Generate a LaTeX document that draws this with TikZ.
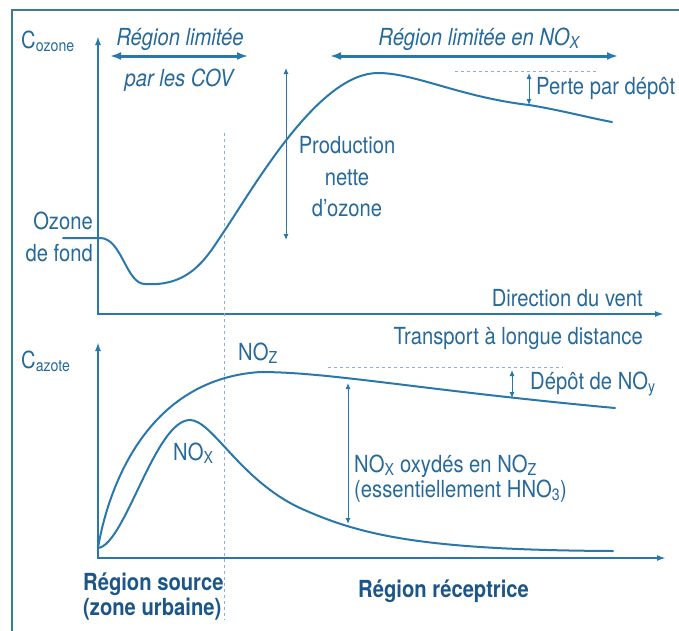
\documentclass[tikz,border=0pt]{standalone}
\usepackage{fontspec}
\setmainfont{TeX Gyre Heros}[FakeStretch=0.86]
\usetikzlibrary{arrows.meta}
\definecolor{lc}{HTML}{2A77AB}
\definecolor{tc}{HTML}{26699B}
\definecolor{bc}{HTML}{1C5688}
\definecolor{gl}{HTML}{8FB0C8}
\definecolor{fc}{HTML}{3E7D8F}
\newcommand\lbfont{\fontsize{23.5}{31.5}\selectfont}
\newcommand\sbs[1]{\textsubscript{#1}}
\tikzset{
  frameline/.style={draw=fc, line width=2pt},
  ax/.style={draw=lc, line width=2.2pt, line join=miter, {Latex[length=9pt,width=6pt]}-{Latex[length=9pt,width=6pt]}},
  crv/.style={draw=lc, line width=2pt, line cap=round},
  reg/.style={draw=lc, line width=3pt, {Latex[length=11pt,width=8pt]}-{Latex[length=11pt,width=8pt]}},
  dim/.style={draw=lc, line width=1pt, {Latex[length=6pt,width=5pt]}-{Latex[length=6pt,width=5pt]}},
  guide/.style={draw=gl, line width=0.9pt, dash pattern=on 3pt off 3pt},
  lbl/.style={text=tc, font=\lbfont, inner sep=0pt},
  blbl/.style={text=bc, font=\lbfont\bfseries, inner sep=0pt},
}
\begin{document}
\begin{tikzpicture}[x=1pt,y=-1pt]
\useasboundingbox (0,0) rectangle (679,630);
% frame
\draw[frameline] (12,632) -- (12,10) -- (681,10);

% ---------- upper plot ----------
\coordinate (uo) at (98,314);
\coordinate (uy) at (98,36);
\coordinate (ux) at (664,314);
\draw[ax] (uy) -- (uo) -- (ux);

% vertical guide
\coordinate (g1) at (224,133);
\coordinate (g2) at (224,620);
\draw[guide] (g1) -- (g2);

% ozone curve
\draw[crv] (63,238) -- (100,238)
  .. controls (122,238) and (126,284) .. (145,284)
  .. controls (192,287) and (208,255) .. (225,230)
  .. controls (258,180) and (320,73) .. (378,73)
  .. controls (415,73) and (460,97) .. (529,105)
  .. controls (560,110) and (590,118) .. (612,122);

% region arrows
\coordinate (ra1) at (110,56);
\coordinate (ra2) at (248,56);
\coordinate (rb1) at (330,56);
\coordinate (rb2) at (618,56);
\draw[reg] (ra1) -- (ra2);
\draw[reg] (rb1) -- (rb2);

% dashed level + loss arrow
\coordinate (d1) at (455,71);
\coordinate (d2) at (597,71);
\draw[guide] (d1) -- (d2);
\coordinate (pa) at (529,73);
\coordinate (pb) at (529,105);
\draw[dim] (pa) -- (pb);

% production arrow
\coordinate (pr1) at (286,68);
\coordinate (pr2) at (286,240);
\draw[dim] (pr1) -- (pr2);

% upper texts
\node[lbl, anchor=base west] (cozone) at (21,48) {C\sbs{ozone}};
\node[lbl, anchor=base, font=\lbfont\itshape] (rl1) at (180,45) {Région limitée};
\node[lbl, anchor=base, font=\lbfont\itshape] (rl2) at (179,86) {par les COV};
\node[lbl, anchor=base, font=\lbfont\itshape] (rl3) at (479,45) {Région limitée en NO\sbs{X}};
\node[lbl, anchor=base west] (perte) at (536,94) {Perte par dépôt};
\node[lbl, align=center] (prod) at (347,177) {Production\\nette\\d’ozone};
\node[lbl, align=right, anchor=east] (fond) at (93,237) {Ozone\\de fond};
\node[lbl, anchor=base east] (vent) at (643,306) {Direction du vent};
\node[lbl, anchor=base east] (transp) at (643,344) {Transport à longue distance};

% ---------- lower plot ----------
\coordinate (lo) at (98,558);
\coordinate (ly) at (98,342);
\coordinate (lx) at (666,558);
\draw[ax] (ly) -- (lo) -- (lx);

% NOz curve
\draw[crv] (98,548) .. controls (106,500) and (140,380) .. (260,372)
  .. controls (330,372) and (420,390) .. (615,408);
% NOx curve
\draw[crv] (98,548) .. controls (125,545) and (155,420) .. (190,420)
  .. controls (212,420) and (240,480) .. (300,508)
  .. controls (360,535) and (420,550) .. (613,551);

% dashed level + deposition arrow
\coordinate (e1) at (328,367);
\coordinate (e2) at (563,367);
\draw[guide] (e1) -- (e2);
\coordinate (da) at (512,370);
\coordinate (db) at (512,398);
\draw[dim] (da) -- (db);

% oxidation arrow
\coordinate (ox1) at (348,383);
\coordinate (ox2) at (348,524);
\draw[dim] (ox1) -- (ox2);

% lower texts
\node[lbl, anchor=base west] (cazote) at (21,368) {C\sbs{azote}};
\node[lbl, anchor=base west] (noz) at (238,360) {NO\sbs{Z}};
\node[lbl, anchor=base west] (nox) at (173,460) {NO\sbs{X}};
\node[lbl, anchor=base west] (depot) at (530,389) {Dépôt de NO\sbs{y}};
\node[lbl, anchor=base west] (oxy1) at (354,472) {NO\sbs{X} oxydés en NO\sbs{Z}};
\node[lbl, anchor=base west] (oxy2) at (354,497) {(essentiellement HNO\sbs{3})};
\node[blbl, anchor=base west] (src1) at (83,590) {Région source};
\node[blbl, anchor=base west] (src2) at (83,615) {(zone urbaine)};
\node[blbl, anchor=base west] (recep) at (358,597) {Région réceptrice};
\end{tikzpicture}
\end{document}
